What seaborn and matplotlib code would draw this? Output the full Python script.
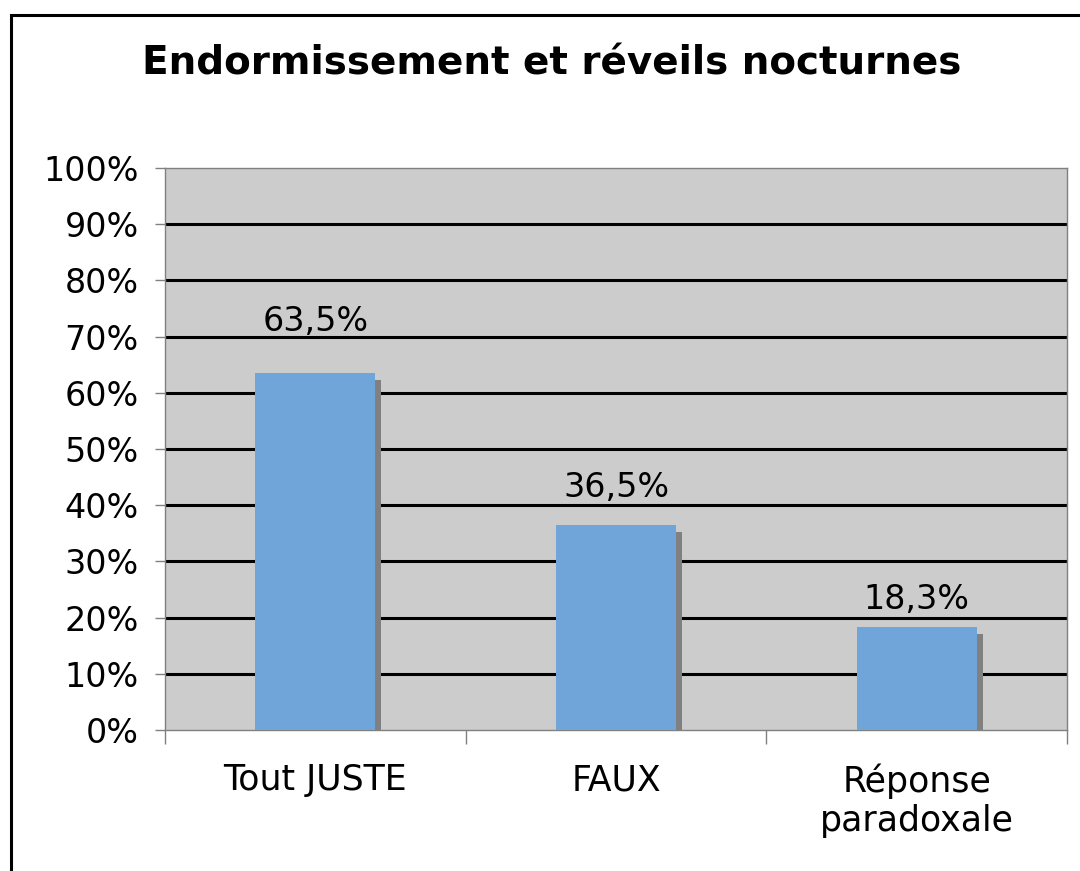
import matplotlib
matplotlib.use("Agg")
import matplotlib.pyplot as plt
import matplotlib.patheffects as pe
from matplotlib.patches import Rectangle
import seaborn as sns

sns.set_style("white")
plt.rcParams['font.family'] = ['DejaVu Sans']
plt.rcParams['text.color'] = 'black'
plt.rcParams['xtick.labelcolor'] = 'black'
plt.rcParams['ytick.labelcolor'] = 'black'

categories = ["Tout JUSTE", "FAUX", "Réponse\nparadoxale"]
values = [63.5, 36.5, 18.3]
labels = ["63,5%", "36,5%", "18,3%"]
title = "Endormissement et réveils nocturnes"

fig = plt.figure(figsize=(10.8, 8.71), dpi=100)
ax = fig.add_axes([0.1528, 0.1619, 0.8352, 0.6452])
ax.set_facecolor("#CCCCCC")

sns.barplot(x=categories, y=values, color="#6FA5D8", saturation=1, width=0.4, ax=ax, zorder=3)
shadow = [pe.SimplePatchShadow(offset=(4.3, -5), shadow_rgbFace="#808080", alpha=1), pe.Normal()]
for p in ax.patches:
    p.set_path_effects(shadow)
    p.set_linewidth(0)

# value labels sit a bit above each bar
for i, (v, t) in enumerate(zip(values, labels)):
    ax.text(i, v * 1.095 + 3.1, t, ha="center", va="center", fontsize=24, color="black")

ax.set_ylim(0, 100)
ax.set_xlim(-0.5, len(categories) - 0.5)
ax.set_yticks(range(0, 101, 10))
ax.set_yticklabels([f"{t}%" for t in range(0, 101, 10)], fontsize=24)
ax.set_axisbelow(True)
ax.grid(axis="y", color="black", lw=2.2)
gl = ax.get_ygridlines()
gl[0].set_visible(False)
gl[-1].set_visible(False)

ax.tick_params(axis="y", length=7, color="#808080", width=1, left=True, pad=12)
ax.tick_params(axis="x", which="major", length=0, labelsize=25, pad=24)
ax.set_xticks([-0.5, 0.5, 1.5, 2.5], minor=True)
ax.tick_params(axis="x", which="minor", length=10, color="#808080", width=1, bottom=True)
for s in ax.spines.values():
    s.set_color("#808080")
    s.set_linewidth(1)

fig.text(0.511, 0.927, title, ha="center", va="center", fontsize=28, fontweight="bold", color="black")
fig.patches.append(Rectangle((0.0102, -0.1), 1.2, 1.083, transform=fig.transFigure,
                             fill=False, lw=2.2, edgecolor="black"))

fig.savefig("out.png", dpi=100)
